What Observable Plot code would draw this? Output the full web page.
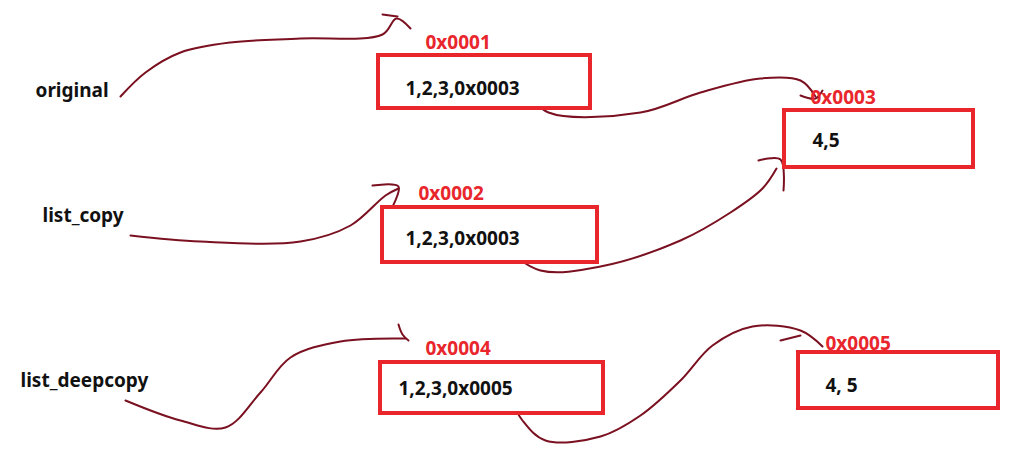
<!DOCTYPE html>
<html><head><meta charset="utf-8">
<script src="https://cdn.jsdelivr.net/npm/d3@7"></script>
<script src="https://cdn.jsdelivr.net/npm/@observablehq/plot@0.6"></script>
<style>body{margin:0;background:#fff}</style>
</head><body><div id="chart"></div>
<script>
// boxes of memory
const boxes = [
  {x1:378,y1:55,x2:590,y2:108,val:"1,2,3,0x0003",vx:405,vy:88,addr:"0x0001",ax:425,ay:42},
  {x1:784,y1:110,x2:973,y2:167,val:"4,5",vx:812,vy:140,addr:"0x0003",ax:810,ay:97},
  {x1:382,y1:207,x2:597,y2:262,val:"1,2,3,0x0003",vx:405,vy:238,addr:"0x0002",ax:418,ay:193},
  {x1:380,y1:362,x2:603,y2:413,val:"1,2,3,0x0005",vx:398,vy:388,addr:"0x0004",ax:425,ay:348},
  {x1:798,y1:352,x2:998,y2:408,val:"4, 5",vx:825,vy:385,addr:"0x0005",ax:825,ay:343}
]
const names = [
  {t:"original",x:35,y:90},
  {t:"list_copy",x:42,y:215},
  {t:"list_deepcopy",x:20,y:380}
]
// hand-drawn arrows
const strokes = [
  {id:"a",pts:[[120,96],[145,72],[180,52],[230,42],[300,38],[382,34],[396,18],[410,28]]},
  {id:"a2",pts:[[382,14],[397,16]]},
  {id:"b",pts:[[525,90],[548,112],[640,112],[700,92],[760,78],[800,80],[815,96]]},
  {id:"b2",pts:[[800,95],[815,98],[822,90]]},
  {id:"c",pts:[[130,235],[200,241],[300,241],[350,225],[385,195],[398,188]]},
  {id:"c2",pts:[[372,185],[398,186],[390,210]]},
  {id:"d",pts:[[500,245],[540,270],[600,266],[680,240],[730,212],[762,188],[776,168]]},
  {id:"d2",pts:[[758,160],[780,159],[783,190]]},
  {id:"e",pts:[[125,400],[180,420],[225,427],[260,392],[290,357],[340,341],[405,338]]},
  {id:"e2",pts:[[398,324],[402,334],[408,340]]},
  {id:"f",pts:[[505,388],[522,420],[545,440],[600,436],[640,415],[680,380],[712,345],[752,326],[800,330],[822,346]]},
  {id:"f2",pts:[[780,340],[800,335]]}
]
const linePts = strokes.flatMap(s => s.pts.map(([x,y]) => ({id:s.id,x,y})))
const red = "#e8262c", wine = "#7a1020"
const font = "'Noto Sans', 'DejaVu Sans', sans-serif"

const chart = Plot.plot({
  width:1023, height:473, margin:0,
  x:{domain:[0,1023], axis:null},
  y:{domain:[0,473], range:[0,473], axis:null},
  style:{fontFamily:font},
  marks:[
    Plot.line(linePts,{x:"x",y:"y",z:"id",stroke:wine,strokeWidth:2,curve:"catmull-rom"}),
    Plot.rect(boxes,{x1:"x1",x2:"x2",y1:"y1",y2:"y2",fill:"white",stroke:red,strokeWidth:4}),
    Plot.text(boxes,{x:"vx",y:"vy",text:"val",textAnchor:"start",fontSize:19,fontWeight:"bold",fill:"#111"}),
    Plot.text(boxes,{x:"ax",y:"ay",text:"addr",textAnchor:"start",fontSize:19,fontWeight:"bold",fill:red}),
    Plot.text(names,{x:"x",y:"y",text:"t",textAnchor:"start",fontSize:19,fontWeight:"bold",fill:"#111"})
  ]
})
document.getElementById("chart").append(chart)
</script></body></html>
